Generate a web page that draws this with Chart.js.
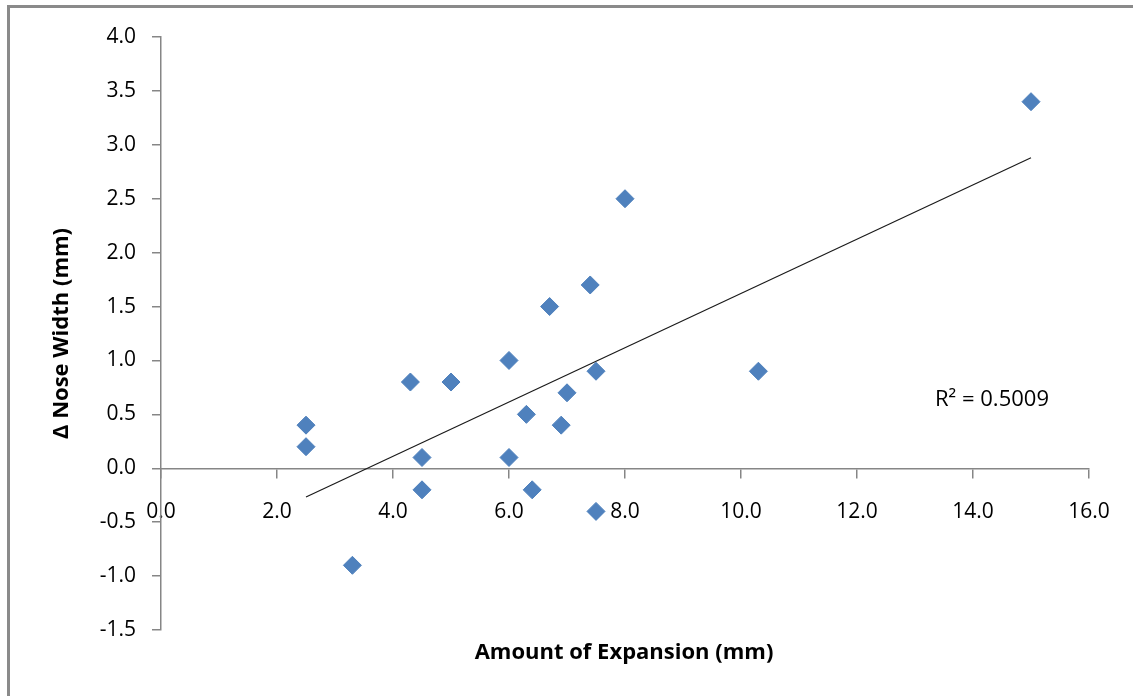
<!DOCTYPE html>
<html>
<head>
<meta charset="utf-8">
<script src="https://cdn.jsdelivr.net/npm/chart.js@4.4.1/dist/chart.umd.min.js"></script>
<style>
  html, body { margin: 0; padding: 0; background: #ffffff; }
  #wrap { position: relative; width: 1133px; height: 696px; }
  canvas { display: block; }
</style>
</head>
<body>
<div id="wrap"><canvas id="c" width="1133" height="696"></canvas></div>
<script>
// ---- data ----
const expansionMm = [2.5, 2.5, 4.3, 5.0, 6.0, 6.7, 7.4, 7.5, 7.0, 6.3, 6.9, 4.5, 6.0, 4.5, 6.4, 3.3, 7.5, 8.0, 10.3, 15.0];
const noseWidthChange = [0.4, 0.2, 0.8, 0.8, 1.0, 1.5, 1.7, 0.9, 0.7, 0.5, 0.4, 0.1, 0.1, -0.2, -0.2, -0.9, -0.4, 2.5, 0.9, 3.4];
const xTickValues = [0, 2, 4, 6, 8, 10, 12, 14, 16];
const yTickValues = [-1.5, -1.0, -0.5, 0, 0.5, 1.0, 1.5, 2.0, 2.5, 3.0, 3.5, 4.0];
const xTitle = 'Amount of Expansion (mm)';
const yTitle = 'Δ Nose Width (mm)';
const rSquaredLabel = 'R² = 0.5009';

// ---- linear trendline (least squares over the data) ----
const n = expansionMm.length;
const mx = expansionMm.reduce((a, b) => a + b, 0) / n;
const my = noseWidthChange.reduce((a, b) => a + b, 0) / n;
let sxy = 0, sxx = 0;
for (let i = 0; i < n; i++) {
  sxy += (expansionMm[i] - mx) * (noseWidthChange[i] - my);
  sxx += (expansionMm[i] - mx) * (expansionMm[i] - mx);
}
const slope = sxy / sxx;
const intercept = my - slope * mx;
const xMin = Math.min(...expansionMm), xMax = Math.max(...expansionMm);
const trendPoints = [xMin, xMax].map(x => ({ x: x, y: intercept + slope * x }));

const points = expansionMm.map((x, i) => ({ x: x, y: noseWidthChange[i] }));

const AXIS = '#868686';
const FONT = "'Open Sans', 'Noto Sans', sans-serif";

const decorPlugin = {
  id: 'decor',
  beforeDraw(chart) {
    const ctx = chart.ctx;
    ctx.save();
    ctx.fillStyle = '#ffffff';
    ctx.fillRect(0, 0, chart.width, chart.height);
    ctx.fillStyle = '#8a8a8a';
    ctx.fillRect(7, 5, chart.width - 7, 3);      // top frame line
    ctx.fillRect(7, 8, 3, chart.height - 8);     // left frame line
    ctx.restore();
  },
  afterDraw(chart) {
    const ctx = chart.ctx;
    const xs = chart.scales.x, ys = chart.scales.y;
    ctx.save();
    ctx.fillStyle = '#000000';
    ctx.textAlign = 'center';
    ctx.textBaseline = 'middle';
    ctx.font = "bold 22px " + FONT;
    ctx.fillText(xTitle, (xs.left + xs.right) / 2 - 1, 653);
    ctx.save();
    ctx.translate(62, (ys.top + ys.bottom) / 2);
    ctx.rotate(-Math.PI / 2);
    ctx.fillText(yTitle, 0, 0);
    ctx.restore();
    ctx.font = "22px " + FONT;
    ctx.fillText(rSquaredLabel, 992, 400);
    ctx.restore();
  }
};

new Chart(document.getElementById('c'), {
  type: 'scatter',
  data: {
    datasets: [
      {
        label: 'Δ Nose Width',
        data: points,
        pointStyle: 'rectRot',
        pointRadius: 9,
        pointHoverRadius: 9,
        backgroundColor: '#4F81BD',
        borderColor: '#4F81BD',
        borderWidth: 1,
        order: 1
      },
      {
        type: 'line',
        label: 'Linear trend',
        data: trendPoints,
        borderColor: '#1a1a1a',
        borderWidth: 1.2,
        pointRadius: 0,
        fill: false,
        order: 2
      }
    ]
  },
  options: {
    responsive: false,
    animation: false,
    events: [],
    layout: { padding: { left: 0, right: 44, top: 37, bottom: 66 } },
    plugins: {
      legend: { display: false },
      tooltip: { enabled: false },
      title: { display: false }
    },
    scales: {
      x: {
        type: 'linear',
        position: { y: 0 },
        min: 0,
        max: 16,
        afterBuildTicks(scale) { scale.ticks = xTickValues.map(v => ({ value: v })); },
        ticks: {
          color: '#000000',
          font: { family: FONT, size: 21 },
          padding: 22,
          maxRotation: 0,
          callback: v => Number(v).toFixed(1)
        },
        grid: { display: true, drawOnChartArea: false, drawTicks: true, tickLength: 9, color: AXIS, lineWidth: 1.5 },
        border: { display: true, color: AXIS, width: 1.5 }
      },
      y: {
        type: 'linear',
        position: 'left',
        min: -1.5,
        max: 4.0,
        afterBuildTicks(scale) { scale.ticks = yTickValues.map(v => ({ value: v })); },
        afterFit(scale) { scale.width = 161; },
        ticks: {
          color: '#000000',
          font: { family: FONT, size: 21 },
          padding: 16,
          callback: v => Number(v).toFixed(1)
        },
        grid: { display: true, drawOnChartArea: false, drawTicks: true, tickLength: 9, color: AXIS, lineWidth: 1.5 },
        border: { display: true, color: AXIS, width: 1.5 }
      }
    }
  },
  plugins: [decorPlugin]
});
</script>
</body>
</html>
